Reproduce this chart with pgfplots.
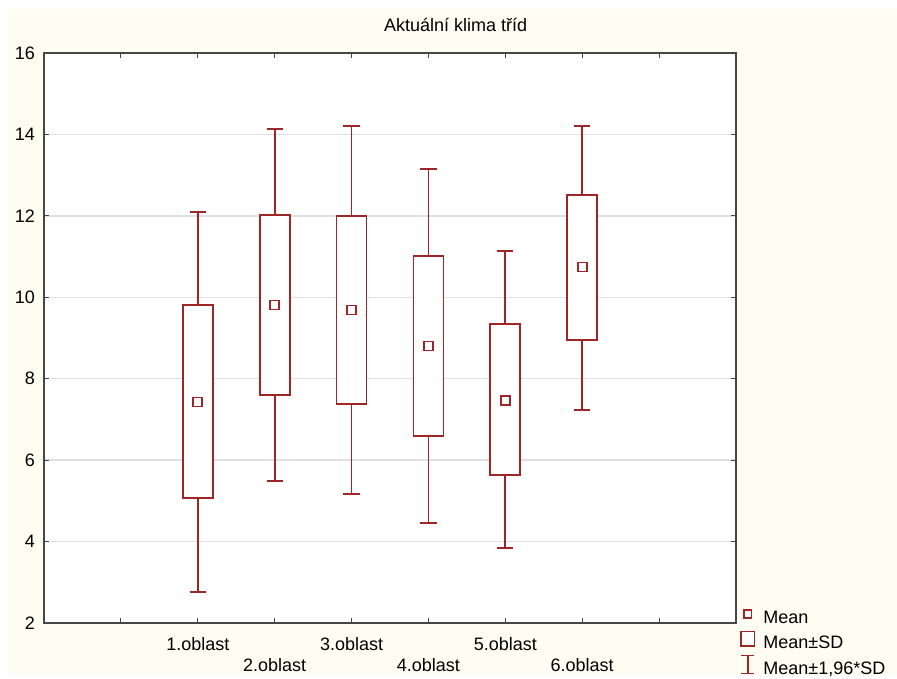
\documentclass[border=0pt]{standalone}
\usepackage{pgfplots}
\pgfplotsset{compat=1.18}
\usepgfplotslibrary{statistics}
\usepackage{fontspec}
\setmainfont{Liberation Sans}
\definecolor{boxred}{RGB}{158,38,38}
\definecolor{cream}{RGB}{255,252,241}
\definecolor{gridgray}{RGB}{224,224,224}
\definecolor{axisgray}{RGB}{70,70,70}
\begin{document}
\begin{tikzpicture}
\fill[white] (-44pt,-52pt) rectangle (853pt,623pt);
\fill[cream] (-36pt,-52pt) rectangle (853pt,614pt);
\begin{axis}[
    at={(0pt,0pt)}, anchor=south west,
    scale only axis, width=692pt, height=570pt,
    xmin=0, xmax=9, ymin=2, ymax=16,
    xtick={1,...,8}, ytick={2,4,...,16},
    xticklabels={{}, {\strut 1.oblast\\\strut}, {\strut\\\strut 2.oblast}, {\strut 3.oblast\\\strut}, {\strut\\\strut 4.oblast}, {\strut 5.oblast\\\strut}, {\strut\\\strut 6.oblast}, {}},
    font=\fontsize{18}{21}\selectfont,
    /pgf/number format/assume math mode=true,
    xticklabel style={align=center, anchor=north, inner sep=0pt, yshift=-13pt},
    yticklabel style={anchor=east, inner sep=0pt, xshift=-9pt},
    tick align=inside, major tick length=5pt,
    tick style={axisgray, line width=1pt},
    axis line style={axisgray, line width=1.5pt},
    axis background/.style={fill=white},
    ymajorgrids, grid style={gridgray, line width=1.4pt},
    title={Aktuální klima tříd},
    title style={at={(0.595,1)}, anchor=base, yshift=15pt, inner sep=0pt},
    boxplot/draw direction=y,
    boxplot/box extend=0.39,
    boxplot/whisker extend=0.21,
    boxplot/draw/median/.code={},
    boxplot/every box/.style={draw=boxred, line width=1.8pt, fill=white},
    boxplot/every whisker/.style={draw=boxred, line width=1.8pt},
    legend style={at={(1.006,0.032)}, anchor=north west, draw=none, fill=none,
        inner sep=0pt, row sep=3pt,
        nodes={text height=13pt, text depth=3pt, inner sep=0pt},
        /tikz/every odd column/.append style={column sep=8pt}},
    legend cell align=left,
]
% boxes: Mean +- SD, whiskers: Mean +- 1.96*SD
\addplot[boxred, forget plot, boxplot prepared={draw position=2,
    lower whisker=2.76, lower quartile=5.07, median=7.43, upper quartile=9.81, upper whisker=12.09}] coordinates {};
\addplot[boxred, forget plot, boxplot prepared={draw position=3,
    lower whisker=5.48, lower quartile=7.60, median=9.81, upper quartile=12.02, upper whisker=14.13}] coordinates {};
\addplot[boxred, forget plot, boxplot prepared={draw position=4,
    lower whisker=5.16, lower quartile=7.38, median=9.69, upper quartile=12.00, upper whisker=14.21}] coordinates {};
\addplot[boxred, forget plot, boxplot prepared={draw position=5,
    lower whisker=4.45, lower quartile=6.59, median=8.80, upper quartile=11.01, upper whisker=13.15}] coordinates {};
\addplot[boxred, forget plot, boxplot prepared={draw position=6,
    lower whisker=3.84, lower quartile=5.63, median=7.47, upper quartile=9.34, upper whisker=11.14}] coordinates {};
\addplot[boxred, forget plot, boxplot prepared={draw position=7,
    lower whisker=7.23, lower quartile=8.95, median=10.74, upper quartile=12.51, upper whisker=14.21}] coordinates {};
% means
\addplot[only marks, forget plot, mark=square*, mark size=4.5pt,
    mark options={draw=boxred, fill=white, line width=1.6pt}]
    coordinates {(2,7.43) (3,9.81) (4,9.69) (5,8.80) (6,7.47) (7,10.74)};

\addlegendimage{legend image code/.code={
    \path[draw=none] (-7pt,-4pt) rectangle (7pt,14pt);
    \draw[boxred, line width=1.5pt, fill=white] (-3.8pt,1.2pt) rectangle (3.8pt,8.8pt);}}
\addlegendentry{Mean}
\addlegendimage{legend image code/.code={
    \path[draw=none] (-7pt,-4pt) rectangle (7pt,14pt);
    \draw[boxred, line width=1.5pt, fill=white] (-6.8pt,-2pt) rectangle (6.8pt,12.5pt);}}
\addlegendentry{Mean±SD}
\addlegendimage{legend image code/.code={
    \path[draw=none] (-7pt,-4pt) rectangle (7pt,14pt);
    \draw[boxred, line width=1.5pt] (0pt,-4pt) -- (0pt,14pt)
        (-6.5pt,-4pt) -- (6.5pt,-4pt) (-6.5pt,14pt) -- (6.5pt,14pt);}}
\addlegendentry{Mean±1,96*SD}
\end{axis}
\end{tikzpicture}
\end{document}
